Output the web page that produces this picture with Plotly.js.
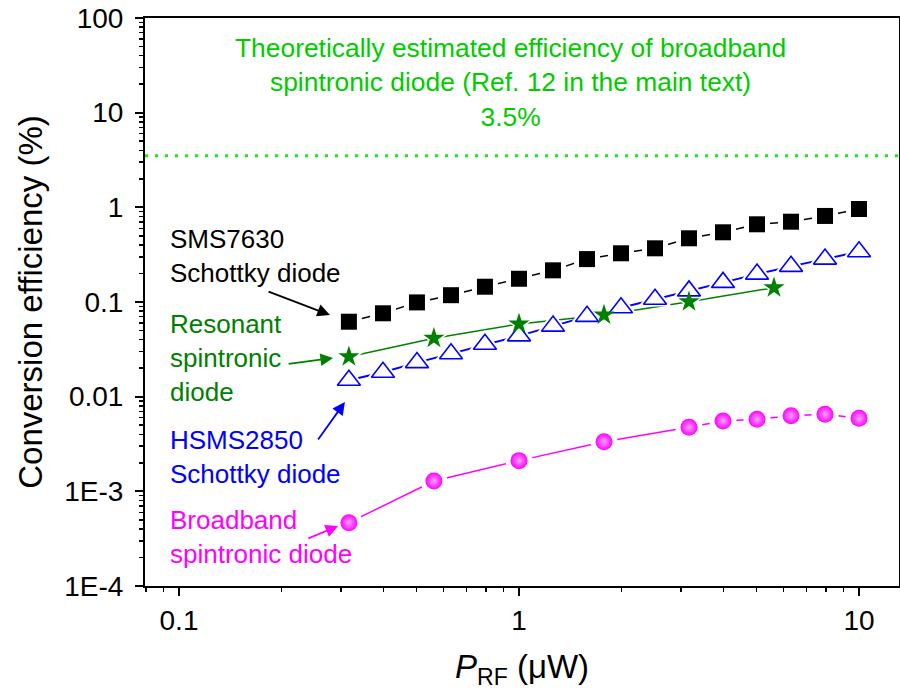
<!DOCTYPE html>
<html>
<head>
<meta charset="utf-8">
<script src="https://cdn.plot.ly/plotly-3.0.1.min.js"></script>
<style>html,body{margin:0;padding:0;background:#fff;}#chart{width:900px;height:698px;}</style>
</head>
<body>
<div id="chart"></div>
<script>
// ---- data ----
const pSMS = [0.316, 0.398, 0.501, 0.631, 0.794, 1, 1.259, 1.585, 1.995, 2.512, 3.162, 3.981, 5.012, 6.310, 7.943, 10];
const effSMS = [0.0619, 0.076, 0.099, 0.118, 0.145, 0.176, 0.216, 0.284, 0.327, 0.369, 0.471, 0.545, 0.662, 0.705, 0.811, 0.96];

const pHSMS = [0.316, 0.398, 0.501, 0.631, 0.794, 1, 1.259, 1.585, 1.995, 2.512, 3.162, 3.981, 5.012, 6.310, 7.943, 10];
const effHSMS = [0.0149, 0.0181, 0.0229, 0.0284, 0.0358, 0.0439, 0.0556, 0.0705, 0.0869, 0.107, 0.131, 0.161, 0.197, 0.238, 0.284, 0.340];

const pRes = [0.316, 0.562, 1, 1.778, 3.162, 5.623];
const effRes = [0.0264, 0.0414, 0.0586, 0.0729, 0.1007, 0.1416];

const pBroad = [0.316, 0.562, 1, 1.778, 3.162, 3.981, 5.012, 6.310, 7.943, 10];
const effBroad = [0.000467, 0.001286, 0.00211, 0.00334, 0.00475, 0.00553, 0.00577, 0.00630, 0.00652, 0.00591];

const theoryEff = 3.5;

const yTickVals = [1e-4, 1e-3, 0.01, 0.1, 1, 10, 100];
const yTickText = ['1E-4', '1E-3', '0.01', '0.1', '1', '10', '100'];
const xTickVals = [0.1, 1, 10];
const xTickText = ['0.1', '1', '10'];

// ---- styling ----
const FONT = "'Liberation Sans', Arial, Helvetica, sans-serif";
const series = [
  {x: pSMS, y: effSMS, line: '#000000', lw: 1.5, symbol: 'square', size: 16, fill: '#000000', mlw: 0, halo: 10},
  {x: pBroad, y: effBroad, line: '#ff00ff', lw: 1.5, symbol: 'circle', size: 17, fill: '#ff00ff', mlw: 0, halo: 10, grad: '#ffa0ff'},
  {x: pHSMS, y: effHSMS, line: '#0000ff', lw: 2, symbol: 'triangle-up', size: 20, fill: '#ffffff', mlw: 1.6, halo: 9},
  {x: pRes, y: effRes, line: '#008000', lw: 1.5, symbol: 'star', size: 16, fill: '#008000', mlw: 0, halo: 7}
];

const traces = [];
series.forEach(s => traces.push({
  x: s.x, y: s.y, mode: 'lines', line: {color: s.line, width: s.lw},
  hoverinfo: 'skip', showlegend: false
}));
series.forEach(s => traces.push({
  x: s.x, y: s.y, mode: 'markers',
  marker: {symbol: s.symbol, size: s.size + s.halo, color: '#ffffff', line: {width: 0}},
  hoverinfo: 'skip', showlegend: false
}));
series.forEach(s => {
  const m = {symbol: s.symbol, size: s.size, color: s.fill, line: {color: s.line, width: s.mlw}};
  if (s.grad) m.gradient = {type: 'radial', color: s.grad};
  traces.push({x: s.x, y: s.y, mode: 'markers', marker: m, showlegend: false});
});

function textNote(text, x, y, color) {
  return {text: text, xref: 'paper', yref: 'paper', x: x, y: y, xanchor: 'left', yanchor: 'middle',
          align: 'left', showarrow: false, font: {family: FONT, size: 26, color: color}};
}
// arrows: positions in log10 axis units (annotation convention for log axes)
function arrow(hx, hy, tx, ty, color) {
  return {text: '', xref: 'x', yref: 'y', axref: 'x', ayref: 'y', x: hx, y: hy, ax: tx, ay: ty,
          showarrow: true, arrowhead: 2, arrowsize: 1.4, arrowwidth: 1.8, arrowcolor: color};
}

const annotations = [
  {text: 'Theoretically estimated efficiency of broadband<br>spintronic diode (Ref. 12 in the main text)<br>' + theoryEff + '%',
   xref: 'paper', yref: 'paper', x: 0.4854, y: 0.887, xanchor: 'center', yanchor: 'middle', align: 'center',
   showarrow: false, font: {family: FONT, size: 26.4, color: '#00cc00'}},
  textNote('SMS7630<br>Schottky diode', 0.031, 0.5815, '#000000'),
  textNote('Resonant<br>spintronic<br>diode', 0.031, 0.402, '#008000'),
  textNote('HSMS2850<br>Schottky diode', 0.031, 0.227, '#0000ff'),
  textNote('Broadband<br>spintronic diode', 0.031, 0.0863, '#ff00ff'),
  arrow(-0.556, -1.137, -0.741, -0.884, '#000000'),
  arrow(-0.547, -1.592, -0.682, -1.655, '#008000'),
  arrow(-0.512, -2.056, -0.594, -2.468, '#0000ff'),
  arrow(-0.532, -3.366, -0.624, -3.504, '#ff00ff')
];

const axisCommon = {
  showgrid: false, zeroline: false, showline: true, linecolor: '#000', linewidth: 2, mirror: true,
  ticks: 'outside', ticklen: 8, tickwidth: 2, tickcolor: '#000',
  tickfont: {family: FONT, size: 28, color: '#000'},
  minor: {ticks: 'outside', ticklen: 4, tickwidth: 1.5, tickcolor: '#000', tickmode: 'linear', dtick: 'D1', showgrid: false}
};

const layout = {
  width: 900, height: 698,
  margin: {l: 145, r: 1, t: 18, b: 112},
  paper_bgcolor: '#fff', plot_bgcolor: '#fff',
  showlegend: false,
  xaxis: Object.assign({}, axisCommon, {
    type: 'log', range: [-1.1, 1.1176], tickmode: 'array', tickvals: xTickVals, ticktext: xTickText,
    title: {text: '<i>P</i><sub>RF</sub> (μW)', font: {family: FONT, size: 33, color: '#000'}, standoff: 20}
  }),
  yaxis: Object.assign({}, axisCommon, {
    type: 'log', range: [-4, 2], tickmode: 'array', tickvals: yTickVals, ticktext: yTickText,
    ticklabelstandoff: 6,
    title: {text: 'Conversion efficiency (%)', font: {family: FONT, size: 33, color: '#000'}, standoff: 12}
  }),
  shapes: [{type: 'line', xref: 'paper', x0: 0, x1: 1, yref: 'y', y0: theoryEff, y1: theoryEff,
            line: {color: '#11ee11', width: 3, dash: '3px,7px'}}],
  annotations: annotations
};

Plotly.newPlot('chart', traces, layout, {staticPlot: true});
</script>
</body>
</html>
